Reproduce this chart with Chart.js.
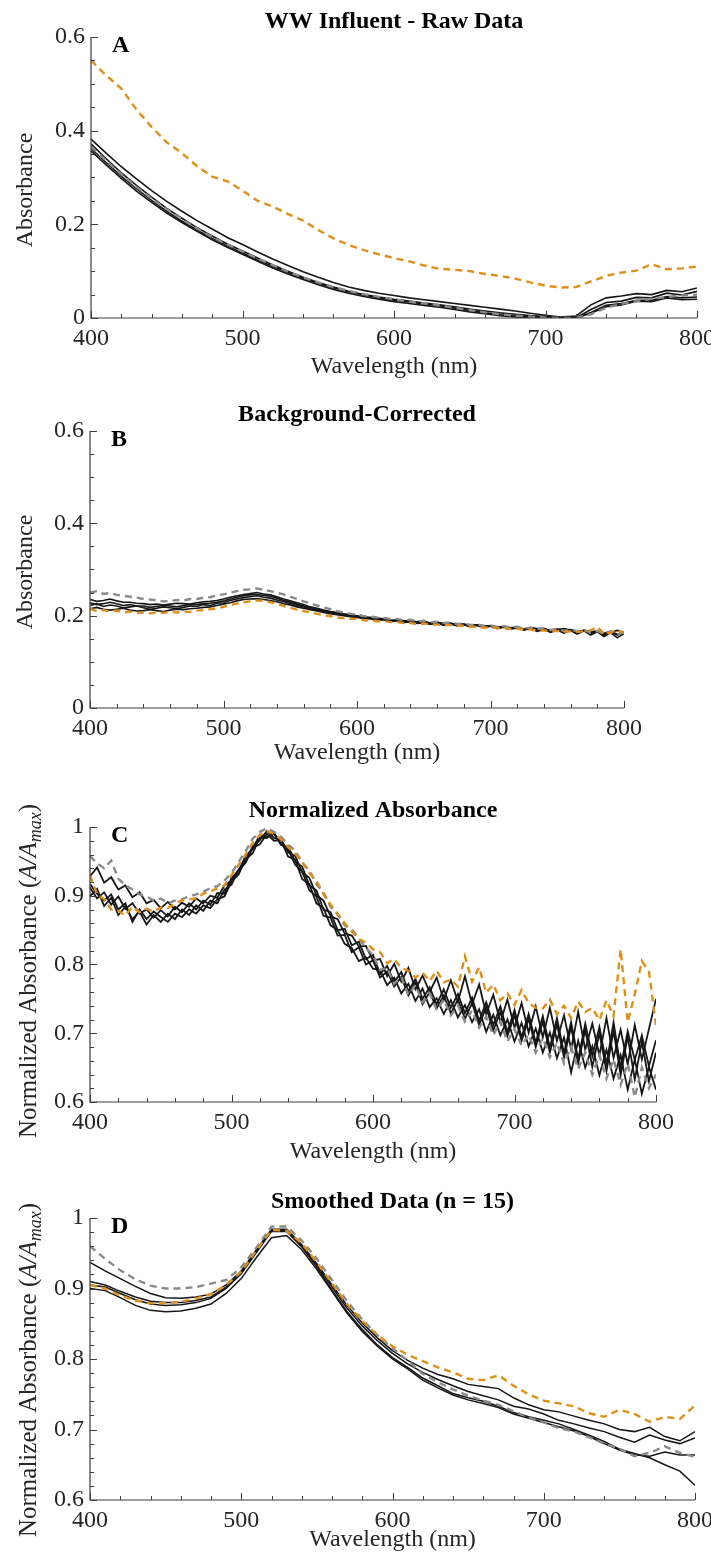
<!DOCTYPE html>
<html>
<head>
<meta charset="utf-8">
<script src="https://cdn.jsdelivr.net/npm/chart.js@4.4.0/dist/chart.umd.min.js"></script>
<style>
	body { margin: 0; background: #fff; width: 711px; height: 1559px; position: relative; overflow: hidden; }
	canvas { position: absolute; left: 0; }
</style>
</head>
<body>
<canvas id="panelA" width="711" height="381" style="top:0px"></canvas>
<canvas id="panelB" width="711" height="386" style="top:381px"></canvas>
<canvas id="panelC" width="711" height="399" style="top:767px"></canvas>
<canvas id="panelD" width="711" height="388" style="top:1166px"></canvas>
<script>
	//WAVELENGTH GRIDS (nm)
	const wl10 = [400, 410, 420, 430, 440, 450, 460, 470, 480, 490, 500, 510, 520, 530, 540, 550, 560, 570, 580, 590, 600,
		610, 620, 630, 640, 650, 660, 670, 680, 690, 700, 710, 720, 730, 740, 750, 760, 770, 780, 790, 800];
	const wl5 = [400, 405, 410, 415, 420, 425, 430, 435, 440, 445, 450, 455, 460, 465, 470, 475, 480, 485, 490, 495, 500,
		505, 510, 515, 520, 525, 530, 535, 540, 545, 550, 555, 560, 565, 570, 575, 580, 585, 590, 595, 600,
		605, 610, 615, 620, 625, 630, 635, 640, 645, 650, 655, 660, 665, 670, 675, 680, 685, 690, 695, 700,
		705, 710, 715, 720, 725, 730, 735, 740, 745, 750, 755, 760, 765, 770, 775, 780, 785, 790, 795, 800];

	//PANEL A - RAW DATA (10 nm)
	const rawOrange = [.550, .518, .490, .445, .408, .375, .352, .324, .302, .292, .272, .250, .238, .222, .208, .188, .170, .156, .145, .136, .128,
		.121, .112, .105, .103, .100, .094, .090, .084, .076, .069, .065, .066, .078, .090, .097, .101, .115, .104, .106, .110];
	const rawBlack1 = [.382, .352, .323, .297, .272, .249, .228, .208, .190, .172, .157, .141, .126, .112, .099, .087, .076, .066, .059, .053, .048,
		.043, .039, .035, .031, .027, .023, .019, .015, .010, .006, .002, .004, .028, .043, .047, .052, .050, .059, .056, .064];
	const rawBlack2 = [.372, .340, .310, .283, .258, .234, .213, .193, .175, .158, .143, .128, .113, .100, .087, .076, .066, .057, .050, .045, .040,
		.036, .032, .028, .024, .019, .015, .011, .008, .005, .003, .001, .000, .018, .033, .036, .044, .043, .053, .049, .057];
	const rawBlack3 = [.362, .332, .303, .276, .251, .228, .207, .188, .170, .154, .139, .124, .110, .097, .085, .074, .064, .056, .049, .043, .038,
		.034, .030, .026, .021, .016, .011, .007, .004, .002, .000, .000, .000, .012, .027, .031, .038, .038, .046, .043, .045];
	const rawBlack4 = [.357, .327, .298, .271, .247, .224, .204, .185, .167, .151, .136, .121, .107, .094, .082, .071, .061, .053, .046, .040, .035,
		.031, .027, .023, .018, .013, .009, .005, .002, .000, .000, .000, .000, .010, .024, .028, .036, .035, .043, .039, .040];
	const rawGrey = [.366, .336, .307, .280, .255, .232, .211, .191, .173, .157, .142, .127, .113, .099, .087, .076, .066, .058, .051, .045, .040,
		.035, .031, .027, .022, .017, .012, .008, .005, .003, .001, .000, .000, .008, .022, .030, .036, .041, .045, .048, .050];

	//PANEL B - BACKGROUND-CORRECTED (5 nm)
	const bgOrange = [.215, .210, .212, .209, .211, .207, .209, .206, .207, .205, .207, .206, .208, .207, .209, .208, .211, .212, .214, .216, .219,
		.223, .226, .229, .231, .233, .232, .229, .226, .221, .217, .213, .210, .207, .204, .201, .199, .196, .195, .193, .193,
		.190, .190, .188, .188, .186, .186, .184, .184, .182, .183, .181, .181, .179, .180, .178, .178, .176, .176, .174, .175,
		.173, .173, .171, .172, .170, .170, .168, .168, .166, .167, .165, .166, .165, .166, .168, .176, .160, .163, .170, .162];
	const bgBlack1 = [.222, .226, .220, .223, .221, .217, .219, .221, .217, .214, .216, .219, .217, .215, .218, .221, .220, .224, .222, .227, .228,
		.233, .236, .239, .241, .243, .240, .238, .234, .230, .226, .222, .219, .215, .212, .209, .206, .204, .201, .199, .198,
		.193, .195, .191, .192, .188, .190, .186, .188, .185, .187, .182, .185, .181, .183, .179, .181, .177, .180, .175, .178,
		.174, .176, .172, .174, .170, .173, .168, .172, .166, .170, .164, .169, .163, .168, .161, .166, .160, .165, .158, .163];
	const bgBlack2 = [.235, .231, .233, .236, .232, .229, .229, .227, .226, .224, .225, .223, .225, .227, .226, .225, .228, .230, .231, .233, .236,
		.240, .243, .246, .248, .250, .247, .245, .241, .236, .232, .228, .224, .219, .216, .212, .209, .207, .204, .202, .200,
		.197, .196, .195, .193, .190, .191, .189, .189, .187, .188, .184, .186, .183, .184, .181, .182, .179, .180, .178, .178,
		.175, .177, .174, .175, .171, .174, .172, .172, .168, .171, .167, .170, .166, .168, .164, .167, .162, .166, .160, .165];
	const bgBlack3 = [.215, .218, .214, .212, .214, .216, .212, .210, .211, .213, .211, .209, .212, .214, .213, .215, .216, .218, .219, .222, .225,
		.228, .232, .235, .236, .237, .235, .233, .230, .226, .223, .219, .216, .213, .210, .207, .204, .202, .200, .198, .196,
		.194, .193, .190, .191, .187, .189, .185, .187, .183, .185, .181, .184, .179, .182, .178, .180, .176, .179, .174, .177,
		.172, .175, .171, .173, .169, .172, .166, .170, .164, .169, .162, .168, .160, .167, .158, .165, .155, .163, .152, .161];
	const bgBlack4 = [.228, .224, .226, .229, .226, .222, .224, .221, .221, .218, .220, .222, .221, .219, .222, .224, .224, .226, .227, .229, .232,
		.236, .240, .243, .245, .246, .244, .242, .238, .233, .229, .225, .221, .217, .214, .211, .208, .206, .203, .201, .199,
		.196, .196, .193, .193, .189, .190, .187, .188, .184, .187, .183, .185, .181, .183, .180, .181, .177, .179, .176, .178,
		.173, .176, .173, .174, .169, .173, .170, .171, .166, .170, .172, .169, .163, .168, .165, .166, .158, .164, .168, .164];
	const bgGrey = [.250, .253, .247, .249, .245, .243, .241, .239, .236, .235, .233, .231, .232, .234, .233, .236, .236, .239, .240, .244, .246,
		.250, .253, .256, .257, .259, .256, .253, .250, .246, .241, .236, .231, .227, .222, .218, .214, .210, .207, .204, .202,
		.199, .198, .196, .195, .193, .193, .190, .191, .188, .189, .186, .187, .184, .185, .182, .183, .180, .181, .178, .179,
		.176, .177, .175, .176, .172, .174, .171, .173, .169, .171, .167, .170, .166, .169, .163, .167, .160, .166, .159, .165];

	//PANEL C - NORMALIZED ABSORBANCE (5 nm)
	const nrmOrange = [.930, .902, .895, .880, .878, .871, .884, .876, .881, .877, .883, .882, .889, .893, .895, .896, .903, .906, .911, .915, .930,
		.945, .960, .977, .988, .994, .990, .982, .971, .961, .949, .933, .922, .902, .887, .874, .860, .848, .837, .832, .822,
		.818, .802, .808, .795, .791, .781, .788, .776, .791, .774, .778, .768, .812, .775, .796, .759, .771, .748, .758, .741,
		.763, .744, .737, .736, .749, .728, .740, .722, .746, .731, .737, .719, .748, .725, .822, .716, .757, .805, .790, .712];
	const nrmBlack1 = [.928, .941, .919, .927, .909, .915, .898, .905, .889, .894, .882, .891, .880, .890, .884, .896, .889, .900, .897, .915, .922,
		.938, .951, .972, .981, .994, .984, .982, .963, .958, .934, .926, .901, .893, .870, .866, .845, .842, .826, .827, .806,
		.808, .783, .801, .775, .795, .764, .784, .760, .781, .748, .777, .746, .783, .742, .771, .728, .756, .716, .749, .708,
		.744, .701, .739, .694, .737, .689, .726, .677, .731, .676, .714, .668, .722, .664, .705, .655, .712, .662, .706, .750];
	const nrmBlack2 = [.912, .896, .905, .887, .899, .881, .889, .874, .880, .868, .879, .870, .884, .876, .889, .880, .893, .887, .904, .903, .926,
		.936, .958, .968, .989, .985, .990, .974, .972, .950, .942, .915, .908, .880, .876, .850, .852, .828, .833, .808, .814,
		.786, .798, .774, .789, .761, .779, .750, .767, .742, .764, .737, .757, .729, .752, .718, .745, .712, .739, .702, .734,
		.694, .728, .686, .725, .679, .722, .671, .716, .662, .714, .667, .709, .655, .716, .650, .703, .661, .697, .652, .690];
	const nrmBlack3 = [.899, .910, .885, .897, .872, .884, .866, .877, .858, .872, .862, .874, .866, .880, .872, .886, .878, .893, .889, .909, .916,
		.937, .948, .970, .975, .990, .980, .981, .957, .952, .924, .917, .889, .882, .857, .850, .830, .824, .805, .810, .794,
		.792, .770, .781, .758, .772, .747, .765, .738, .751, .728, .748, .723, .741, .716, .735, .702, .727, .697, .720, .688,
		.715, .681, .707, .672, .701, .664, .694, .643, .689, .650, .681, .639, .676, .634, .668, .618, .662, .612, .651, .618];
	const nrmBlack4 = [.917, .903, .893, .902, .880, .889, .862, .880, .866, .877, .869, .862, .874, .869, .880, .874, .886, .882, .895, .899, .921,
		.931, .953, .962, .985, .984, .992, .975, .967, .945, .935, .908, .899, .871, .868, .842, .843, .818, .825, .800, .806,
		.781, .790, .768, .782, .755, .774, .742, .760, .736, .755, .729, .749, .721, .744, .712, .738, .704, .731, .696, .726,
		.689, .721, .680, .717, .672, .713, .665, .709, .656, .705, .651, .700, .645, .704, .639, .695, .633, .688, .630, .672];
	const nrmGrey = [.958, .947, .940, .951, .925, .915, .909, .902, .899, .893, .896, .889, .893, .895, .899, .902, .906, .911, .914, .922, .933,
		.949, .965, .983, .993, .998, .993, .986, .974, .966, .948, .937, .917, .905, .884, .873, .857, .851, .838, .824, .814,
		.792, .795, .772, .782, .756, .770, .745, .758, .734, .749, .726, .740, .717, .733, .708, .724, .697, .717, .688, .706,
		.682, .698, .672, .693, .665, .686, .656, .680, .648, .672, .640, .668, .634, .662, .625, .656, .607, .650, .620, .640];

	//PANEL D - SMOOTHED DATA n = 15 (10 nm)
	const smOrange = [.905, .900, .890, .883, .879, .879, .881, .886, .892, .905, .924, .954, .983, .982, .964, .937, .907, .878, .854, .834, .818,
		.806, .797, .788, .781, .772, .770, .777, .762, .750, .741, .737, .733, .723, .718, .728, .722, .711, .718, .715, .734];
	const smBlack1 = [.937, .925, .914, .903, .893, .887, .886, .888, .892, .905, .925, .955, .984, .984, .962, .935, .905, .876, .851, .830, .812,
		.798, .787, .778, .772, .764, .761, .758, .745, .735, .728, .725, .719, .713, .708, .700, .697, .703, .690, .684, .697];
	const smBlack2 = [.910, .905, .896, .888, .882, .880, .880, .883, .888, .902, .923, .953, .983, .982, .961, .933, .902, .872, .847, .826, .808,
		.793, .781, .771, .762, .754, .748, .742, .733, .729, .722, .713, .708, .702, .697, .689, .682, .692, .685, .680, .688];
	const smBlack3 = [.905, .902, .893, .884, .878, .876, .877, .880, .886, .900, .921, .951, .981, .981, .959, .930, .898, .867, .842, .820, .802,
		.788, .773, .762, .751, .745, .740, .733, .724, .718, .713, .708, .700, .692, .683, .672, .666, .660, .650, .641, .621];
	const smBlack4 = [.900, .897, .887, .876, .869, .867, .868, .872, .878, .893, .914, .944, .972, .975, .955, .927, .896, .865, .839, .818, .800,
		.786, .770, .759, .749, .742, .737, .731, .722, .716, .710, .704, .698, .690, .680, .671, .664, .662, .668, .664, .664];
	const smGrey = [.960, .942, .926, .913, .904, .900, .900, .902, .907, .912, .930, .958, .988, .988, .968, .942, .912, .882, .856, .834, .815,
		.798, .779, .767, .757, .748, .741, .735, .726, .717, .710, .702, .697, .689, .680, .673, .662, .667, .676, .667, .661];

	const ORANGE = '#df8f17';
	const GREY = '#8a8a8a';
	const BLACK = '#161616';
	const SERIF = '"Liberation Serif", "Times New Roman", serif';

	//DRAWS AXES, INWARD TICKS, PANEL TITLE, LETTER AND Y TITLE
	const panelDecor = {
		id: 'panelDecor',
		afterDraw(chart, args, o) {
			const ctx = chart.ctx;
			const a = chart.chartArea;
			const xs = chart.scales.x, ys = chart.scales.y;
			ctx.save();
			ctx.strokeStyle = '#3c3c3c';
			ctx.lineWidth = 1.2;
			ctx.beginPath();
			ctx.moveTo(a.left, a.top);
			ctx.lineTo(a.left, a.bottom);
			ctx.lineTo(a.right, a.bottom);
			ctx.stroke();

			ctx.lineWidth = 1;
			ctx.beginPath();
			for (let i = 0; i <= 20; i++) {
				const px = Math.round(xs.getPixelForValue(400 + i * 20)) + 0.5;
				const len = i % 5 === 0 ? 7 : 4;
				ctx.moveTo(px, a.bottom);
				ctx.lineTo(px, a.bottom - len);
			}
			const n = Math.round((o.yMax - o.yMin) / o.yMinor);
			const per = Math.round(o.yMajor / o.yMinor);
			for (let i = 0; i <= n; i++) {
				const py = Math.round(ys.getPixelForValue(o.yMin + i * o.yMinor)) + 0.5;
				const len = i % per === 0 ? 7 : 4;
				ctx.moveTo(a.left, py);
				ctx.lineTo(a.left + len, py);
			}
			ctx.stroke();

			ctx.fillStyle = '#000';
			ctx.textAlign = 'center';
			ctx.textBaseline = 'alphabetic';
			ctx.font = 'bold 24px ' + SERIF;
			ctx.fillText(o.title, (a.left + a.right) / 2, o.titleY);
			ctx.textAlign = 'left';
			ctx.fillText(o.letter, a.left + 21, a.top + 15);

			//ROTATED Y TITLE, BUILT FROM TEXT PIECES
			ctx.translate(o.yTitleX, o.yTitleY);
			ctx.rotate(-Math.PI / 2);
			ctx.fillStyle = '#262626';
			let total = 0;
			o.yTitle.forEach(p => { ctx.font = p.font; p.w = ctx.measureText(p.t).width; total += p.w; });
			let cx = -total / 2;
			o.yTitle.forEach(p => {
				ctx.font = p.font;
				ctx.fillText(p.t, cx, p.dy || 0);
				cx += p.w;
			});
			ctx.restore();
		}
	};

	const plainY = [{ t: 'Absorbance', font: '24px ' + SERIF }];
	const normY = [
		{ t: 'Normalized Absorbance (', font: '25px ' + SERIF },
		{ t: 'A/A', font: 'italic 25px ' + SERIF },
		{ t: 'max', font: 'italic 18px ' + SERIF, dy: 5 },
		{ t: ')', font: '25px ' + SERIF }
	];

	function MakePanel(id, p) {
		const datasets = p.series.map(s => ({
			data: s.values.map((v, i) => ({ x: p.xs[i], y: v })),
			borderColor: s.color,
			borderWidth: s.width,
			borderDash: s.dash || [],
			pointRadius: 0,
			tension: 0,
			fill: false
		}));
		const tickFont = { family: SERIF, size: 24 };
		return new Chart(document.getElementById(id), {
			type: 'line',
			data: { datasets: datasets },
			options: {
				responsive: false,
				animation: false,
				events: [],
				layout: { padding: { top: p.top, right: p.right, left: 0, bottom: 0 } },
				plugins: {
					legend: { display: false },
					tooltip: { enabled: false },
					panelDecor: {
						title: p.title, titleY: p.titleY, letter: p.letter,
						yTitle: p.yTitle, yTitleX: p.yTitleX, yTitleY: p.yTitleY,
						yMin: p.yMin, yMax: p.yMax, yMajor: p.yStep, yMinor: p.yMinor
					}
				},
				scales: {
					x: {
						type: 'linear', min: 400, max: 800,
						grid: { display: false, drawTicks: false },
						border: { display: false },
						ticks: { stepSize: 100, padding: 6, maxRotation: 0, autoSkip: false, font: tickFont, color: '#262626' },
						title: { display: true, text: 'Wavelength (nm)', font: { family: SERIF, size: 24 }, color: '#262626', padding: 0 },
						afterFit: s => { s.height = p.xHeight; s.paddingLeft = 0; s.paddingRight = 0; }
					},
					y: {
						type: 'linear', min: p.yMin, max: p.yMax,
						grid: { display: false, drawTicks: false },
						border: { display: false },
						ticks: {
							stepSize: p.yStep, padding: 6, font: tickFont, color: '#262626',
							callback: v => String(Math.round(v * 10) / 10)
						},
						afterFit: s => { s.width = p.left; s.paddingTop = 0; s.paddingBottom = 0; }
					}
				}
			},
			plugins: [panelDecor]
		});
	}

	function Lines(orange, grey, blacks, solidWidth) {
		const list = [{ values: orange, color: ORANGE, width: 2.4, dash: [7, 5] },
			{ values: grey, color: GREY, width: 2.4, dash: [7, 5] }];
		blacks.forEach(b => list.push({ values: b, color: BLACK, width: solidWidth }));
		return list;
	}

	MakePanel('panelA', {
		xs: wl10, series: Lines(rawOrange, rawGrey, [rawBlack1, rawBlack2, rawBlack3, rawBlack4], 1.6),
		title: 'WW Influent - Raw Data', titleY: 28, letter: 'A',
		yTitle: plainY, yTitleX: 32, yTitleY: 190,
		top: 37, left: 91, right: 14, xHeight: 63,
		yMin: 0, yMax: 0.6, yStep: 0.2, yMinor: 0.05
	});
	MakePanel('panelB', {
		xs: wl5, series: Lines(bgOrange, bgGrey, [bgBlack1, bgBlack2, bgBlack3, bgBlack4], 1.6),
		title: 'Background-Corrected', titleY: 40, letter: 'B',
		yTitle: plainY, yTitleX: 32, yTitleY: 191,
		top: 50, left: 90, right: 87, xHeight: 59,
		yMin: 0, yMax: 0.6, yStep: 0.2, yMinor: 0.05
	});
	MakePanel('panelC', {
		xs: wl5, series: Lines(nrmOrange, nrmGrey, [nrmBlack1, nrmBlack2, nrmBlack3, nrmBlack4], 1.8),
		title: 'Normalized Absorbance', titleY: 50, letter: 'C',
		yTitle: normY, yTitleX: 36, yTitleY: 204,
		top: 60, left: 90, right: 55, xHeight: 64,
		yMin: 0.6, yMax: 1, yStep: 0.1, yMinor: 0.02
	});
	MakePanel('panelD', {
		xs: wl10, series: Lines(smOrange, smGrey, [smBlack1, smBlack2, smBlack3, smBlack4], 1.5),
		title: 'Smoothed Data (n = 15)', titleY: 42, letter: 'D',
		yTitle: normY, yTitleX: 36, yTitleY: 204,
		top: 52, left: 90, right: 16, xHeight: 54,
		yMin: 0.6, yMax: 1, yStep: 0.1, yMinor: 0.02
	});
</script>
</body>
</html>
